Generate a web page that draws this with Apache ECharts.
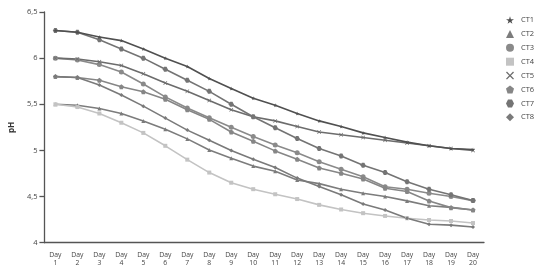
<!DOCTYPE html>
<html>
<head>
<meta charset="utf-8">
<script src="https://cdn.jsdelivr.net/npm/echarts@6/dist/echarts.min.js"></script>
<style>html,body{margin:0;padding:0;background:#fff}#c{width:539px;height:276px}</style>
</head>
<body>
<div id="c"></div>
<script>
const days = ['Day 1','Day 2','Day 3','Day 4','Day 5','Day 6','Day 7','Day 8','Day 9','Day 10','Day 11','Day 12','Day 13','Day 14','Day 15','Day 16','Day 17','Day 18','Day 19','Day 20'];
const seriesNames = ['CT1','CT2','CT3','CT4','CT5','CT6','CT7','CT8'];
const ct1 = [6.30, 6.28, 6.23, 6.19, 6.10, 6.00, 5.91, 5.78, 5.67, 5.565, 5.49, 5.40, 5.32, 5.26, 5.19, 5.14, 5.09, 5.05, 5.02, 5.01];
const ct2 = [5.50, 5.49, 5.455, 5.40, 5.32, 5.23, 5.125, 5.005, 4.915, 4.83, 4.775, 4.68, 4.64, 4.58, 4.535, 4.50, 4.453, 4.40, 4.383, 4.355];
const ct3 = [6.00, 5.98, 5.93, 5.85, 5.72, 5.58, 5.46, 5.355, 5.25, 5.15, 5.06, 4.975, 4.878, 4.795, 4.715, 4.607, 4.58, 4.535, 4.50, 4.456];
const ct4 = [5.50, 5.47, 5.40, 5.30, 5.19, 5.05, 4.90, 4.76, 4.65, 4.58, 4.525, 4.473, 4.41, 4.36, 4.32, 4.29, 4.265, 4.246, 4.235, 4.213];
const ct5 = [6.00, 5.99, 5.96, 5.92, 5.83, 5.73, 5.64, 5.54, 5.44, 5.365, 5.32, 5.26, 5.20, 5.17, 5.14, 5.11, 5.08, 5.05, 5.02, 5.00];
const ct6 = [5.80, 5.79, 5.76, 5.69, 5.636, 5.555, 5.44, 5.337, 5.20, 5.10, 4.995, 4.904, 4.81, 4.752, 4.69, 4.59, 4.555, 4.453, 4.38, 4.355];
const ct7 = [6.30, 6.28, 6.20, 6.10, 6.00, 5.88, 5.76, 5.64, 5.50, 5.365, 5.246, 5.13, 5.02, 4.94, 4.84, 4.76, 4.66, 4.58, 4.52, 4.456];
const ct8 = [5.80, 5.79, 5.71, 5.60, 5.48, 5.35, 5.22, 5.11, 5.00, 4.905, 4.815, 4.70, 4.61, 4.52, 4.42, 4.355, 4.265, 4.20, 4.19, 4.17];
const yTicks = ['4','4,5','5','5,5','6','6,5'];

const seriesData = [ct1, ct2, ct3, ct4, ct5, ct6, ct7, ct8];
const colors = ['#505050','#7c7c7c','#8a8a8a','#c3c3c3','#6c6c6c','#868686','#747474','#7a7a7a'];
const STAR = 'path://M50,0 L61,35 L98,35 L68,57 L79,91 L50,70 L21,91 L32,57 L2,35 L39,35 Z';
const XMARK = 'path://M0,12 L12,0 L50,38 L88,0 L100,12 L62,50 L100,88 L88,100 L50,62 L12,100 L0,88 L38,50 Z';
const PENT = 'path://M50,0 L100,38 L81,100 L19,100 L0,38 Z';
const HEX = 'path://M25,0 L75,0 L100,50 L75,100 L25,100 L0,50 Z';
const symbols = [STAR, 'triangle', 'circle', 'rect', XMARK, PENT, HEX, 'diamond'];
const symSizes = [4, 4, 5, 4, 4, 5, 5, 4];

const chart = echarts.init(document.getElementById('c'), null, {renderer: 'canvas'});
chart.setOption({
  animation: false,
  textStyle: {fontFamily: 'Open Sans'},
  grid: {left: 41, right: 55, top: 12, bottom: 33.3, containLabel: false},
  legend: {
    orient: 'vertical',
    left: 501,
    top: 11,
    itemWidth: 8,
    itemHeight: 8,
    itemGap: 5.9,
    textStyle: {fontSize: 7.5, color: '#444', fontFamily: 'Open Sans', padding: [0,0,0,2]},
    data: seriesNames.map((n, i) => ({name: n, icon: symbols[i]}))
  },
  xAxis: {
    type: 'category',
    data: days,
    boundaryGap: true,
    axisLine: {lineStyle: {color: '#555', width: 1.3}},
    axisTick: {alignWithLabel: true, length: 6, lineStyle: {color: '#555', width: 1.3}},
    axisLabel: {
      interval: 0, fontSize: 6.8, color: '#444', lineHeight: 7.5, margin: 9,
      formatter: v => v.replace(' ', '\n')
    },
    splitLine: {show: false}
  },
  yAxis: {
    type: 'value',
    min: 4, max: 6.5, interval: 0.5,
    name: 'pH',
    nameLocation: 'middle',
    nameGap: 27,
    nameTextStyle: {fontSize: 8, color: '#333', fontWeight: 'bold'},
    axisLine: {show: true, lineStyle: {color: '#555', width: 1.3}},
    axisTick: {show: true, length: 5, lineStyle: {color: '#555', width: 1.3}},
    axisLabel: {
      fontSize: 7.5, color: '#444', margin: 7,
      formatter: v => yTicks[Math.round((v - 4) / 0.5)]
    },
    splitLine: {show: false}
  },
  series: seriesNames.map((n, i) => ({
    name: n,
    type: 'line',
    data: seriesData[i],
    symbol: symbols[i],
    symbolSize: symSizes[i],
    showAllSymbol: true,
    color: colors[i],
    lineStyle: {width: 1.6, color: colors[i]},
    itemStyle: {color: colors[i]},
    z: i === 0 ? 10 : 2
  }))
});
</script>
</body>
</html>
